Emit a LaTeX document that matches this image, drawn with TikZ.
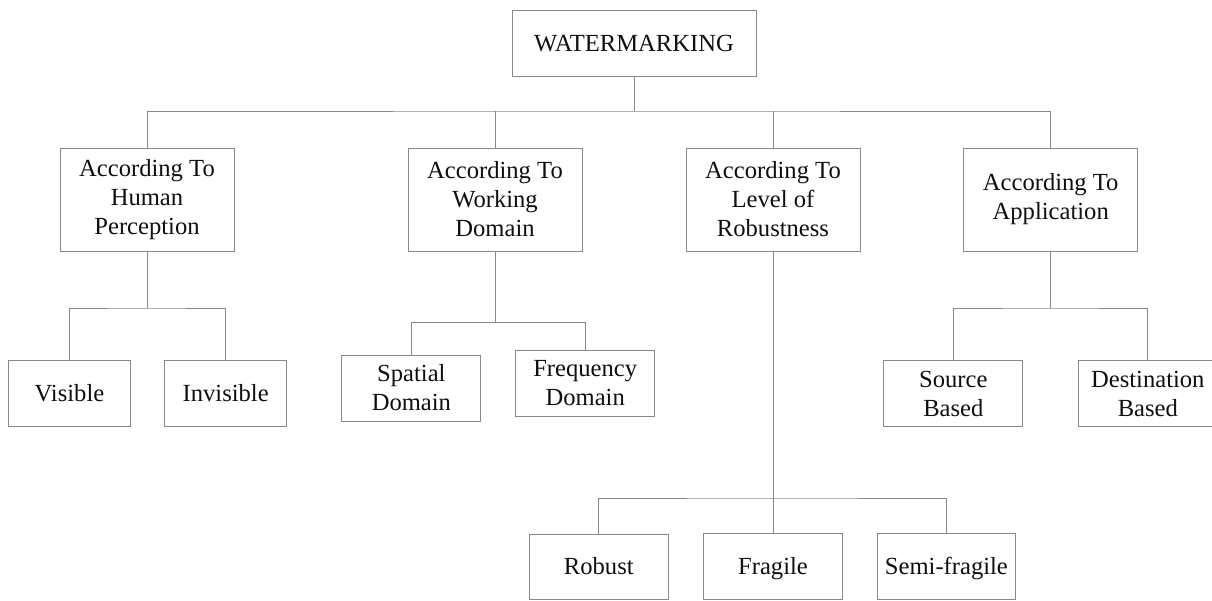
\documentclass[tikz,border=0pt]{standalone}
\usepackage{fontspec}
\setmainfont{Liberation Serif}
\definecolor{linegray}{RGB}{135,135,135}
\definecolor{inkgray}{RGB}{15,15,15}
\begin{document}
\begin{tikzpicture}[x=1pt,y=-1pt,
  box/.style={draw=linegray, line width=1pt, inner sep=0pt, align=center,
    text=inkgray, font=\fontsize{24.6}{29}\selectfont},
  catbox/.style={box, minimum width=174pt, minimum height=103pt},
  leafbox/.style={box, minimum width=139pt, minimum height=66pt},
  oneline/.style={text height=16.8pt, text depth=0pt},
  link/.style={draw=linegray, line width=1pt}]
\useasboundingbox (0,0) rectangle (1212,600);

% root
\node[box, oneline, minimum width=244pt, minimum height=66pt] (wm) at (634,43) {WATERMARKING};

% categories
\node[catbox] (hp) at (147,199.5) {According To\\Human\\Perception};
\node[catbox] (wd) at (495,199.5) {According To\\Working\\Domain};
\node[catbox] (lr) at (773,199.5) {According To\\Level of\\Robustness};
\node[catbox] (ap) at (1050.7,199.5) {According To\\Application};

% leaves
\node[leafbox, oneline, minimum width=122pt, minimum height=66.5pt] (vis) at (69.5,393.5) {Visible};
\node[leafbox, oneline, minimum width=122pt, minimum height=66.5pt] (inv) at (225.7,393.5) {Invisible};
\node[leafbox] (spd) at (411.4,388) {Spatial\\Domain};
\node[leafbox] (frd) at (585.2,383) {Frequency\\Domain};
\node[leafbox, minimum height=66.5pt] (src) at (953.3,393.5) {Source\\Based};
\node[leafbox, minimum height=66.5pt] (dst) at (1147.8,393.5) {Destination\\Based};
\node[leafbox, oneline, minimum height=65pt] (rob) at (598.8,566.5) {Robust};
\node[leafbox, oneline] (fra) at (773,566) {Fragile};
\node[leafbox, oneline, minimum width=137.5pt] (sem) at (946.4,566) {Semi-fragile};

% junction points of the buses
\coordinate (b0) at (634,111);
\coordinate (b1) at (147,308);
\coordinate (b2) at (495,322.3);
\coordinate (b3) at (773,498);
\coordinate (b4) at (1050.7,308);

% root to categories
\draw[link] (wm.south) -- (b0);
\draw[link] (hp.north) |- (b0) -| (ap.north);
\draw[link] (wd.north) -- (wd.north |- b0);
\draw[link] (lr.north) -- (lr.north |- b0);

% human perception
\draw[link] (hp.south) -- (b1);
\draw[link] (vis.north) |- (b1) -| (inv.north);

% working domain
\draw[link] (wd.south) -- (b2);
\draw[link] (spd.north) |- (b2) -| (frd.north);

% robustness
\draw[link] (lr.south) -- (fra.north);
\draw[link] (rob.north) |- (b3) -| (sem.north);

% application
\draw[link] (ap.south) -- (b4);
\draw[link] (src.north) |- (b4) -| (dst.north);
\end{tikzpicture}
\end{document}
